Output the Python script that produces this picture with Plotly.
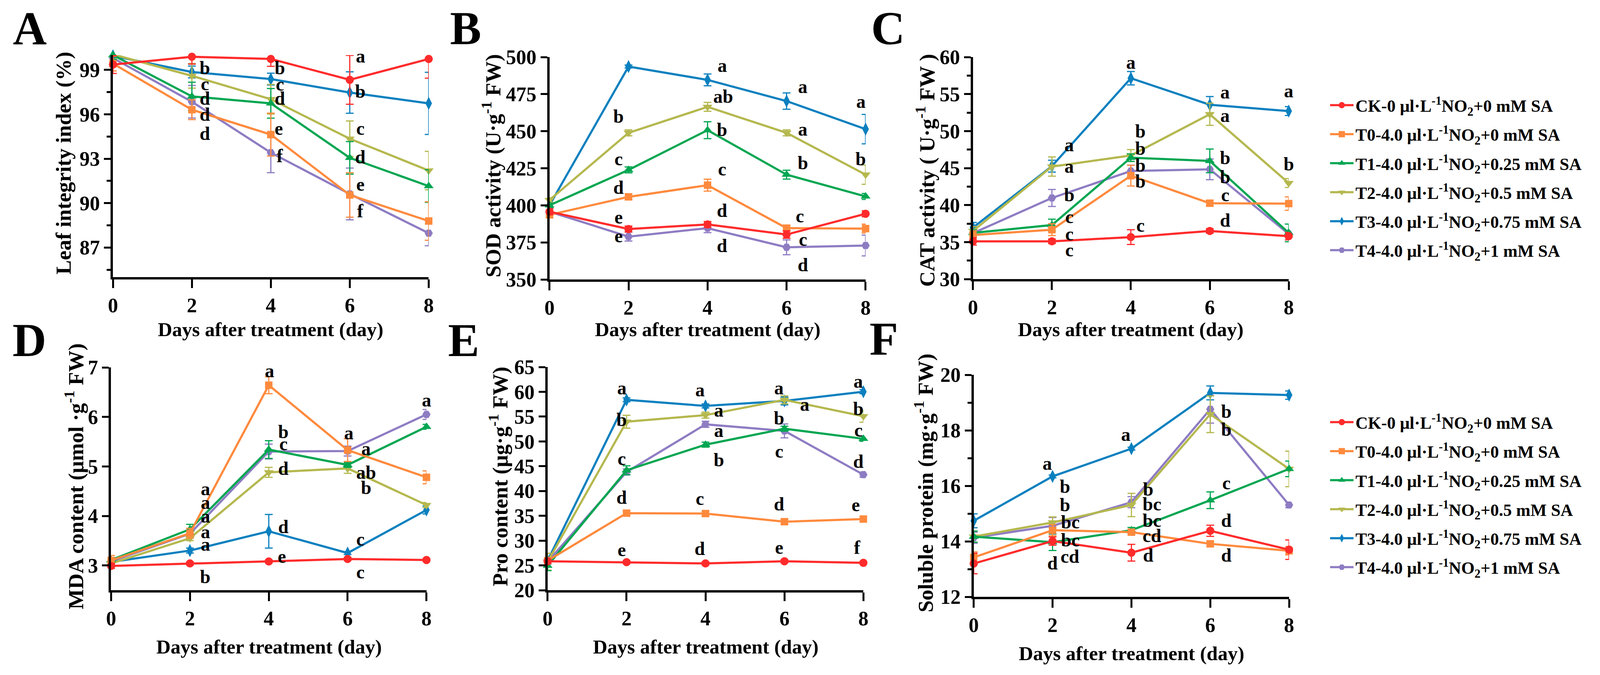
import plotly.graph_objects as go

# Reference geometry is measured on a 4292 x 1727 canvas; positions are kept as
# fractions of that canvas.  The page is rendered at the visible viewport width.
REF_W, H = 4292, 1727
PAGE_W = 4096
FONT = "Liberation Serif"

days = [0, 2, 4, 6, 8]
tick_days = [0, 2, 4, 6, 8]

names = [
    "CK-0 μl·L<sup>-1</sup>NO<sub>2</sub>+0 mM SA",
    "T0-4.0 μl·L<sup>-1</sup>NO<sub>2</sub>+0 mM SA",
    "T1-4.0 μl·L<sup>-1</sup>NO<sub>2</sub>+0.25 mM SA",
    "T2-4.0 μl·L<sup>-1</sup>NO<sub>2</sub>+0.5 mM SA",
    "T3-4.0 μl·L<sup>-1</sup>NO<sub>2</sub>+0.75 mM SA",
    "T4-4.0 μl·L<sup>-1</sup>NO<sub>2</sub>+1 mM SA",
]
colors = ["#FF2B2B", "#FF8A3D", "#00A651", "#B5B84E", "#0A80BF", "#8E7CC3"]
symbols = ["circle", "square", "triangle-up", "triangle-down", "diamond-tall", "hexagon2"]
marker_sizes = [21, 19, 22, 22, 24, 21]

# ---------------- data (order: CK, T0, T1, T2, T3, T4) ----------------
leaf_mean = [
    [99.36, 99.89, 99.74, 98.33, 99.74],
    [99.43, 96.31, 94.63, 90.55, 88.79],
    [100.0, 97.21, 96.74, 93.06, 91.15],
    [100.05, 98.60, 97.02, 94.35, 92.20],
    [99.95, 98.86, 98.38, 97.47, 96.74],
    [99.80, 96.85, 93.41, 90.62, 87.97],
]
leaf_err = [
    [0.6, 0.5, 0.5, 1.65, 1.3],
    [0.5, 0.67, 1.45, 1.5, 1.3],
    [0.3, 0.96, 1.0, 1.1, 1.1],
    [0.3, 0.83, 1.0, 1.2, 1.3],
    [0.3, 0.4, 0.4, 1.4, 2.1],
    [0.5, 1.1, 1.35, 1.75, 0.85],
]
leaf_labels = [
    (2.33, 100.5, "a"), (2.33, 99.14, "b"), (2.33, 98.07, "c"), (2.33, 97.07, "d"), (2.33, 96.0, "d"), (2.33, 94.7, "d"),
    (4.23, 100.5, "a"), (4.23, 99.14, "b"), (4.23, 98.03, "c"), (4.23, 97.07, "d"), (4.2, 95.06, "e"), (4.23, 93.2, "f"),
    (6.27, 99.93, "a"), (6.27, 97.57, "b"), (6.27, 95.06, "c"), (6.27, 93.13, "d"), (6.27, 91.27, "e"), (6.27, 89.48, "f"),
    (8.32, 99.74, "a"), (8.32, 96.92, "b"), (8.32, 92.48, "c"), (8.32, 91.34, "d"), (8.32, 89.26, "e"), (8.32, 87.4, "f"),
]

sod_mean = [
    [395.7, 384.0, 387.1, 380.3, 394.3],
    [393.6, 405.7, 413.6, 384.6, 384.3],
    [400.0, 423.9, 450.7, 420.7, 406.0],
    [403.6, 448.9, 466.4, 448.9, 420.7],
    [400.0, 493.6, 484.6, 470.3, 451.4],
    [395.7, 378.9, 384.6, 371.7, 372.9],
]
sod_err = [
    [2, 2, 2, 2.5, 2],
    [2, 2, 4, 2, 3],
    [1.5, 2, 5.7, 3, 2],
    [1.5, 2, 3, 2, 6.5],
    [1.5, 1, 4, 5.5, 9.9],
    [2, 3, 3, 5, 7],
]
sod_labels = [
    (1.75, 500.7, "a"), (1.75, 460.0, "b"), (1.75, 431.4, "c"), (1.75, 412.1, "d"), (1.75, 392.1, "e"), (1.75, 379.3, "e"),
    (4.37, 494.3, "a"), (4.4, 473.6, "ab"), (4.37, 451.1, "b"), (4.37, 424.6, "c"), (4.37, 396.4, "d"), (4.37, 372.9, "d"),
    (6.41, 480.0, "a"), (6.41, 451.4, "a"), (6.41, 428.6, "b"), (6.33, 392.9, "c"), (6.41, 377.1, "c"), (6.41, 360.0, "d"),
    (7.88, 470.0, "a"), (7.88, 431.4, "b"), (8.36, 405.7, "c"), (8.36, 392.9, "d"), (8.36, 380.0, "d"), (8.36, 364.3, "d"),
]

cat_mean = [
    [35.1, 35.1, 35.67, 36.5, 35.8],
    [35.95, 36.67, 43.97, 40.25, 40.2],
    [36.24, 37.3, 46.4, 45.97, 36.24],
    [36.5, 45.2, 46.7, 52.27, 42.97],
    [36.95, 45.26, 57.14, 53.56, 52.7],
    [36.2, 40.96, 44.6, 44.83, 36.1],
]
cat_err = [
    [0.5, 0.3, 1.0, 0.3, 0.5],
    [0.6, 0.8, 1.4, 0.4, 0.9],
    [0.4, 0.8, 0.5, 1.6, 1.2],
    [0.6, 1.3, 0.8, 1.5, 0.6],
    [0.7, 0.8, 0.9, 1.1, 0.6],
    [0.4, 1.15, 0.8, 1.4, 0.5],
]
cat_labels = [
    (2.44, 48.12, "a"), (2.44, 45.26, "a"), (2.44, 41.39, "b"), (2.44, 38.4, "c"), (2.44, 36.1, "c"), (2.44, 33.95, "c"),
    (4.0, 59.28, "a"), (4.24, 49.98, "b"), (4.24, 47.69, "b"), (4.24, 45.4, "b"), (4.24, 43.25, "b"), (4.24, 37.24, "c"),
    (6.39, 55.28, "a"), (6.39, 52.13, "a"), (6.39, 46.4, "b"), (6.39, 43.82, "b"), (6.39, 41.39, "c"), (6.39, 37.96, "d"),
    (8.0, 55.42, "a"), (8.0, 45.54, "b"), (8.38, 39.96, "bc"), (8.38, 37.67, "cd"), (8.38, 35.67, "cd"), (8.35, 33.38, "d"),
]

mda_mean = [
    [2.99, 3.04, 3.08, 3.13, 3.11],
    [3.10, 3.65, 6.64, 5.33, 4.78],
    [3.11, 3.73, 5.34, 5.03, 5.80],
    [3.04, 3.55, 4.88, 4.96, 4.22],
    [3.07, 3.30, 3.69, 3.25, 4.12],
    [3.08, 3.64, 5.30, 5.31, 6.05],
]
mda_err = [
    [0.05, 0.03, 0.03, 0.03, 0.03],
    [0.10, 0.10, 0.17, 0.23, 0.13],
    [0.05, 0.10, 0.18, 0.05, 0.05],
    [0.03, 0.05, 0.10, 0.10, 0.05],
    [0.05, 0.05, 0.34, 0.03, 0.08],
    [0.05, 0.08, 0.15, 0.10, 0.10],
]
mda_labels = [
    (2.39, 4.55, "a"), (2.39, 4.27, "a"), (2.39, 4.0, "a"), (2.39, 3.68, "a"), (2.39, 3.43, "a"), (2.39, 2.77, "b"),
    (4.02, 6.93, "a"), (4.37, 5.7, "b"), (4.37, 5.46, "c"), (4.37, 4.96, "d"), (4.37, 3.78, "d"), (4.33, 3.18, "e"),
    (6.03, 5.68, "a"), (6.47, 5.36, "a"), (6.47, 4.88, "ab"), (6.47, 4.57, "b"), (6.32, 3.53, "c"), (6.32, 2.87, "c"),
    (8.0, 6.34, "a"), (8.33, 5.76, "a"), (8.3, 4.9, "b"), (8.3, 4.34, "c"), (8.3, 4.02, "c"), (8.33, 3.29, "d"),
]

pro_mean = [
    [25.83, 25.65, 25.39, 25.83, 25.52],
    [25.96, 35.53, 35.45, 33.81, 34.34],
    [24.95, 44.18, 49.34, 52.56, 50.53],
    [25.74, 53.97, 55.30, 58.38, 55.07],
    [25.96, 58.38, 57.15, 58.16, 60.02],
    [25.74, 43.83, 53.44, 52.12, 43.30],
]
pro_err = [
    [0.3, 0.3, 0.3, 0.3, 0.3],
    [0.5, 0.5, 0.5, 0.5, 0.5],
    [1.0, 0.9, 0.5, 0.5, 0.5],
    [1.7, 1.3, 0.6, 0.8, 1.2],
    [0.5, 0.4, 0.4, 0.8, 0.4],
    [0.5, 0.6, 0.6, 1.4, 0.5],
]
pro_labels = [
    (1.88, 60.8, "a"), (1.88, 54.4, "b"), (1.88, 46.5, "c"), (1.88, 38.75, "d"), (1.88, 28.17, "e"),
    (3.86, 60.37, "a"), (4.34, 56.3, "a"), (4.34, 52.2, "a"), (4.34, 46.25, "b"), (3.86, 38.5, "c"), (3.86, 28.4, "d"),
    (5.86, 60.8, "a"), (6.51, 57.5, "a"), (5.86, 54.72, "b"), (5.86, 48.0, "c"), (5.86, 37.4, "d"), (5.86, 28.6, "e"),
    (7.87, 62.13, "a"), (7.87, 56.6, "b"), (7.87, 52.3, "c"), (7.87, 46.0, "d"), (7.8, 37.2, "e"), (7.84, 28.6, "f"),
]

sp_mean = [
    [13.20, 14.01, 13.59, 14.38, 13.70],
    [13.42, 14.40, 14.33, 13.91, 13.66],
    [14.17, 13.97, 14.40, 15.48, 16.61],
    [14.17, 14.68, 15.31, 18.58, 16.61],
    [14.74, 16.34, 17.34, 19.35, 19.27],
    [14.13, 14.56, 15.41, 18.76, 15.31],
]
sp_err = [
    [0.37, 0.15, 0.30, 0.20, 0.35],
    [0.20, 0.20, 0.10, 0.10, 0.15],
    [0.20, 0.30, 0.10, 0.30, 0.28],
    [0.20, 0.20, 0.42, 0.66, 0.64],
    [0.25, 0.05, 0.05, 0.25, 0.15],
    [0.20, 0.30, 0.20, 0.50, 0.10],
]
sp_labels = [
    (1.87, 16.81, "a"), (2.32, 15.98, "b"), (2.32, 15.31, "b"), (2.45, 14.70, "bc"), (2.45, 14.05, "bc"), (2.44, 13.46, "cd"), (2.0, 13.22, "d"),
    (3.86, 17.85, "a"), (4.43, 15.88, "b"), (4.52, 15.35, "bc"), (4.52, 14.76, "bc"), (4.52, 14.21, "cd"), (4.43, 13.5, "d"),
    (5.87, 20.04, "a"), (6.41, 18.68, "b"), (6.41, 18.03, "b"), (6.41, 16.1, "c"), (6.41, 14.76, "d"), (6.41, 13.5, "d"),
    (7.86, 20.04, "a"), (8.39, 17.64, "b"), (8.39, 16.38, "b"), (8.39, 15.79, "c"), (8.39, 14.17, "d"), (8.39, 13.5, "d"),
]

# ---------------- panel placement (reference pixels) ----------------
panels = [
    dict(letter="A", mean=leaf_mean, err=leaf_err, labels=leaf_labels, yr=[85, 100], tick0=87, dtick=3, minor=1.5,
         title="Leaf integrity index (%)", xd=(303, 1150), yd=(141, 709), ytp=(171, 417), xtp=(726, 843), lp=(80, 73)),
    dict(letter="B", mean=sod_mean, err=sod_err, labels=sod_labels, yr=[350, 500], tick0=350, dtick=25, minor=None,
         title="SOD activity (U·g<sup>-1</sup> FW)", xd=(1474, 2322), yd=(146, 715), ytp=(1318, 424), xtp=(1898, 843), lp=(1249, 73)),
    dict(letter="C", mean=cat_mean, err=cat_err, labels=cat_labels, yr=[30, 60], tick0=30, dtick=5, minor=2.5,
         title="CAT activity ( U·g<sup>-1</sup> FW )", xd=(2610, 3457), yd=(146, 714), ytp=(2482, 436), xtp=(3033, 843), lp=(2382, 73)),
    dict(letter="D", mean=mda_mean, err=mda_err, labels=mda_labels, yr=[2.5, 7], tick0=3, dtick=1, minor=None,
         title="MDA content (μmol ·g<sup>-1</sup> FW)", xd=(298, 1144), yd=(940, 1510), ytp=(199, 1219), xtp=(721, 1655), lp=(79, 870)),
    dict(letter="E", mean=pro_mean, err=pro_err, labels=pro_labels, yr=[20, 65], tick0=20, dtick=5, minor=None,
         title="Pro content (μg·g<sup>-1</sup> FW)", xd=(1469, 2316), yd=(939, 1510), ytp=(1337, 1219), xtp=(1893, 1655), lp=(1244, 870)),
    dict(letter="F", mean=sp_mean, err=sp_err, labels=sp_labels, yr=[12, 20], tick0=12, dtick=2, minor=1,
         title="Soluble protein (mg·g<sup>-1</sup> FW)", xd=(2612, 3458), yd=(959, 1527), ytp=(2478, 1236), xtp=(3035, 1672), lp=(2371, 867)),
]


def fx(p):
    return p / REF_W


def fy(p):
    return 1 - p / H


fig = go.Figure()
layout = dict(
    width=PAGE_W, height=H, autosize=False,
    margin=dict(l=0, r=0, t=0, b=0, autoexpand=False),
    paper_bgcolor="white", plot_bgcolor="white",
    font=dict(family=FONT, size=51, color="black", weight="bold"),
    annotations=[],
)

draw_order = [5, 4, 3, 2, 1, 0]
for i, p in enumerate(panels):
    n = "" if i == 0 else str(i + 1)
    xa, ya = "x" + n, "y" + n
    for s in draw_order:
        fig.add_trace(go.Scatter(
            x=days, y=p["mean"][s], name=names[s],
            mode="lines+markers",
            line=dict(color=colors[s], width=5.5),
            marker=dict(symbol=symbols[s], size=marker_sizes[s], color=colors[s], line=dict(width=0)),
            error_y=dict(type="data", array=p["err"][s], color=colors[s], thickness=3, width=10),
            xaxis=xa, yaxis=ya, cliponaxis=False,
            showlegend=(i in (0, 3)),
            legend="legend" if i < 3 else "legend2",
            legendrank=s + 1, legendgroup=f"g{i}_{s}",
        ))
    axis_common = dict(showline=True, linewidth=6, linecolor="black", ticks="outside", tickwidth=5,
                       tickcolor="black", showgrid=False, zeroline=False,
                       tickfont=dict(family=FONT, size=52, color="black", weight="bold"))
    layout["xaxis" + n] = dict(axis_common, domain=[fx(p["xd"][0]), fx(p["xd"][1])], range=[0, 8],
                               tickmode="array", tickvals=tick_days, ticklen=22, anchor=ya)
    yax = dict(axis_common, domain=[fy(p["yd"][1]), fy(p["yd"][0])], range=p["yr"],
               tickmode="linear", tick0=p["tick0"], dtick=p["dtick"], ticklen=17, anchor=xa)
    if p["minor"]:
        yax["minor"] = dict(ticks="outside", tick0=p["tick0"], dtick=p["minor"], ticklen=10, tickwidth=5, tickcolor="black")
    layout["yaxis" + n] = yax

    for (lx, ly, lt) in p["labels"]:
        layout["annotations"].append(dict(x=lx, y=ly, xref=xa, yref=ya, text=lt, showarrow=False,
                                          xanchor="center", yanchor="middle",
                                          font=dict(family=FONT, size=48, color="black", weight="bold")))
    layout["annotations"].append(dict(x=fx(p["ytp"][0]), y=fy(p["ytp"][1]), xref="paper", yref="paper",
                                      text=p["title"], textangle=-90, showarrow=False,
                                      xanchor="center", yanchor="middle",
                                      font=dict(family=FONT, size=55, color="black", weight="bold")))
    layout["annotations"].append(dict(x=fx(p["xtp"][0]), y=fy(p["xtp"][1]), xref="paper", yref="paper",
                                      text="Days after treatment (day)", showarrow=False,
                                      xanchor="center", yanchor="middle",
                                      font=dict(family=FONT, size=51, color="black", weight="bold")))
    layout["annotations"].append(dict(x=fx(p["lp"][0]), y=fy(p["lp"][1]), xref="paper", yref="paper",
                                      text=p["letter"], showarrow=False,
                                      xanchor="center", yanchor="middle",
                                      font=dict(family=FONT, size=120, color="black", weight="bold")))

legend_common = dict(xanchor="left", yanchor="top", bgcolor="rgba(0,0,0,0)", borderwidth=0,
                     font=dict(family=FONT, size=44, color="black", weight="bold"),
                     traceorder="grouped", tracegroupgap=14, itemwidth=60)
leg_x = (3472 - 72) / PAGE_W
layout["legend"] = dict(legend_common, x=leg_x, y=fy(234))
layout["legend2"] = dict(legend_common, x=leg_x, y=fy(1045))

fig.update_layout(**layout)
fig.write_html("out.html", config={"displayModeBar": False},
               post_script="document.body.style.margin='0';document.body.style.overflow='hidden';")
